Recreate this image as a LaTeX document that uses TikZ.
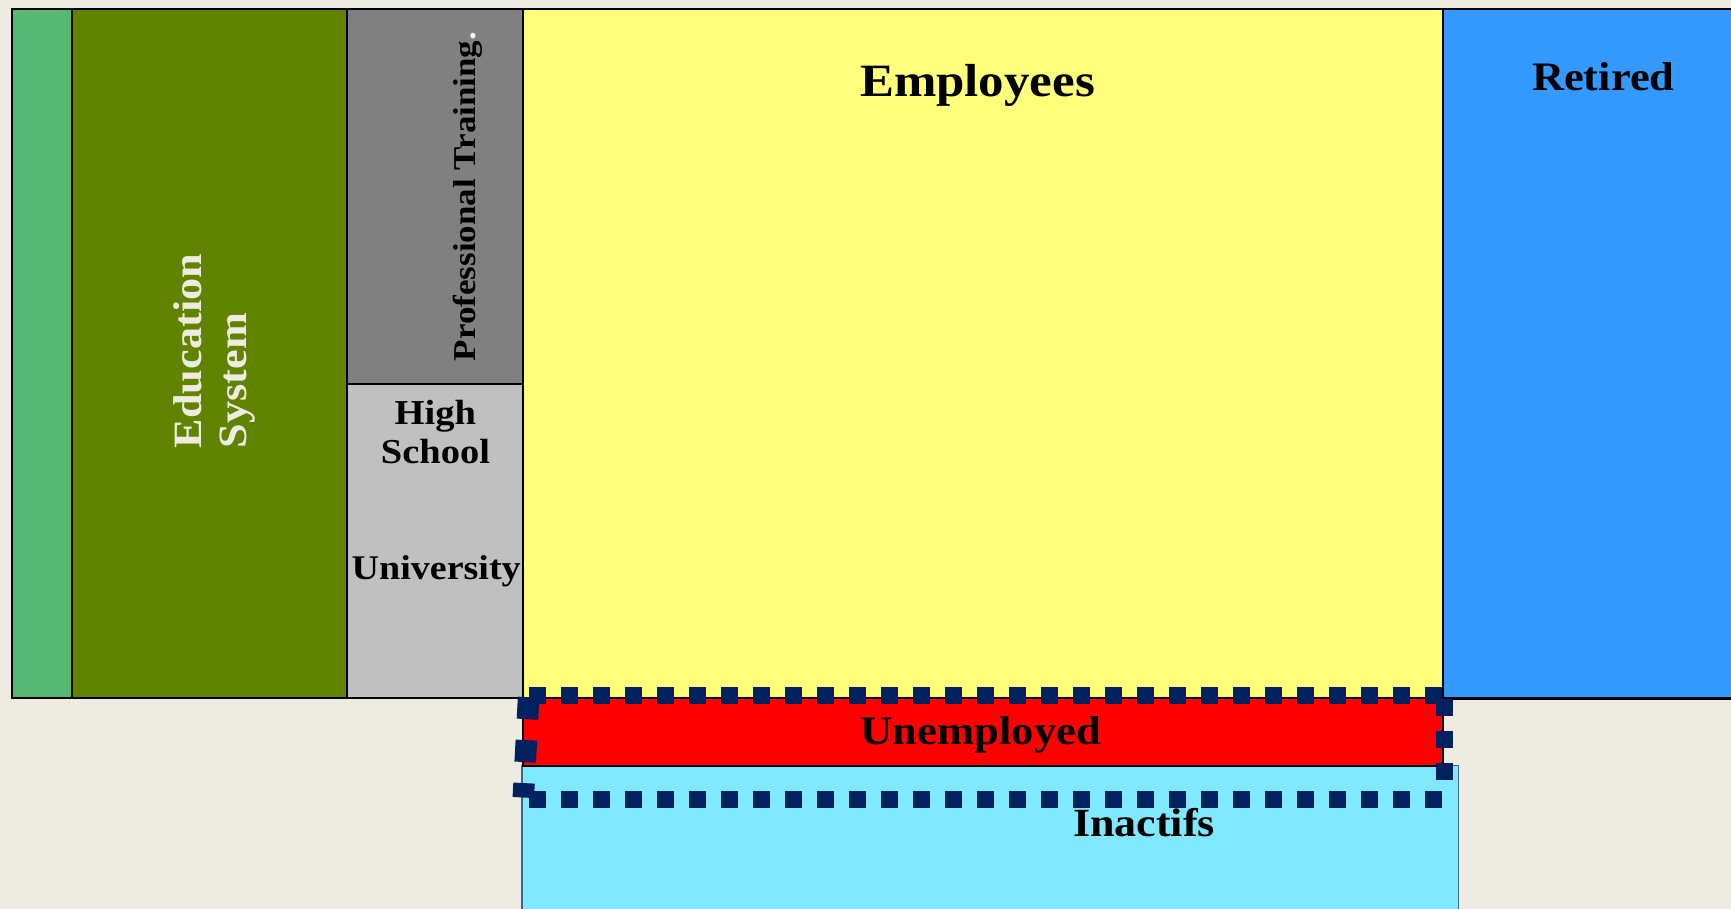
\documentclass[tikz,border=0pt]{standalone}
\usepackage{fontspec}
\newfontfamily\gf[FakeStretch=1.1]{Liberation Serif}
\definecolor{bgc}{HTML}{EEEBE1}
\definecolor{cgreen}{HTML}{57B873}
\definecolor{colive}{HTML}{618400}
\definecolor{cgray}{HTML}{808080}
\definecolor{clgray}{HTML}{C0C0C0}
\definecolor{cyellow}{HTML}{FFFF7B}
\definecolor{cblue}{HTML}{3399FF}
\definecolor{cred}{HTML}{FF0000}
\definecolor{ccyan}{HTML}{80E8FF}
\definecolor{cyanedge}{HTML}{3C6496}
\definecolor{dotnavy}{HTML}{002060}
\definecolor{ctext}{HTML}{EEEBE1}
\begin{document}
\begin{tikzpicture}[x=1pt,y=-1pt,
  box/.style={draw=black,line width=2.2pt},
  lbl/.style={inner sep=0pt,anchor=base,text=black},
  navydots/.style={draw=dotnavy,line width=17pt,dash pattern=on 17pt off 15pt},
  navyleft/.style={draw=dotnavy,line width=21.5pt,dash pattern=on 22pt off 21pt}]
\useasboundingbox[fill=bgc] (0,0) rectangle (1731,909);
% upper row
\filldraw[box,fill=cgreen] (11.7,8.7) rectangle (72,698);
\filldraw[box,fill=colive] (72,8.7) rectangle (347,698);
\filldraw[box,fill=cgray] (347,8.7) rectangle (522.7,384);
\filldraw[box,fill=clgray] (347,384) rectangle (522.7,698);
\filldraw[box,fill=cyellow] (522.7,8.7) rectangle (1442.7,698);
\filldraw[box,fill=cblue] (1442.7,8.7) rectangle (1770,698.5);
% lower boxes
\filldraw[draw=cyanedge,line width=1.5pt,fill=ccyan] (522,765.7) rectangle (1458.3,940);
\filldraw[box,fill=cred] (522.7,698) rectangle (1442.7,765.7);
% dotted outline
\coordinate (tl) at (528.5,695.5);
\coordinate (tr) at (1441.5,695.5);
\coordinate (rt) at (1444.5,698.5);
\coordinate (rb) at (1444.5,779.5);
\coordinate (bl) at (528.5,799);
\coordinate (br) at (1441.5,799);
\coordinate (lt) at (528.6,697.2);
\coordinate (lb) at (523.3,797.5);
\draw[navydots] (tl) -- (tr);
\draw[navydots] (rt) -- (rb);
\draw[navydots] (bl) -- (br);
\draw[navyleft] (lt) -- (lb);
% labels
\node[lbl,font=\gf\bfseries\fontsize{46.3}{50}\selectfont] (emp) at (977.5,96.7) {Employees};
\node[lbl,font=\gf\bfseries\fontsize{40.4}{44}\selectfont] (ret) at (1603.3,90.7) {Retired};
\node[lbl,font=\gf\bfseries\fontsize{40.5}{44}\selectfont] (unemp) at (980.8,744.3) {Unemployed};
\node[lbl,font=\gf\bfseries\fontsize{40}{44}\selectfont] (inact) at (1144,836.7) {Inactifs};
\node[lbl,font=\gf\bfseries\fontsize{35}{39}\selectfont] (high) at (435.3,424.3) {High};
\node[lbl,font=\gf\bfseries\fontsize{35}{39}\selectfont] (school) at (435.5,463.3) {School};
\node[lbl,font=\gf\bfseries\fontsize{34.6}{39}\selectfont] (univ) at (436.2,579.3) {University};
\node[lbl,anchor=base east,rotate=90,font=\gf\bfseries\fontsize{31.8}{36}\selectfont] (prof) at (475,31.7) {Professional Training\textcolor{white}{.}};
\node[lbl,anchor=base west,rotate=90,text=ctext,font=\gf\bfseries\fontsize{40.2}{45}\selectfont] (edu) at (201.7,448.3) {Education};
\node[lbl,anchor=base west,rotate=90,text=ctext,font=\gf\bfseries\fontsize{40.2}{45}\selectfont] (sys) at (246.7,448.3) {System};
\end{tikzpicture}
\end{document}
